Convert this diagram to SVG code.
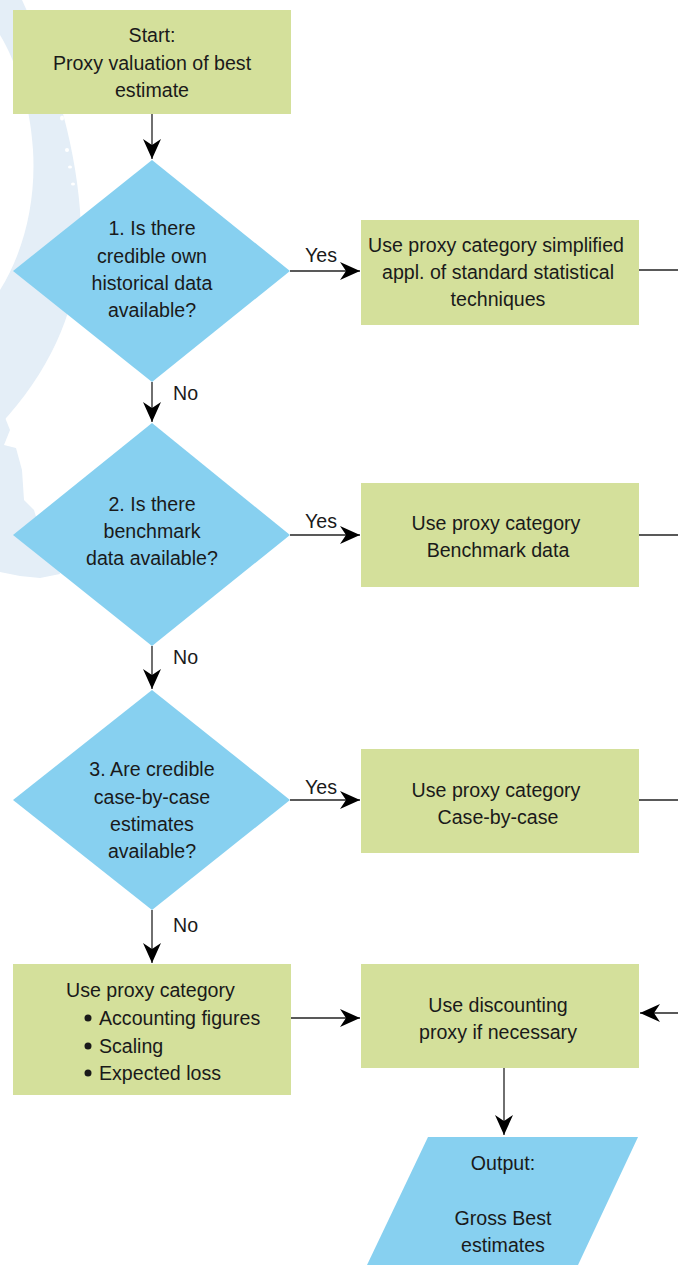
<svg xmlns="http://www.w3.org/2000/svg" width="678" height="1265" viewBox="0 0 678 1265">
<style>
.box{fill:#d4e09b}
.dec{fill:#87d0f0}
.t{font-family:"Liberation Sans",Arial,sans-serif;font-size:19.6px;fill:#1a1a1a;text-anchor:middle}
.tl{font-family:"Liberation Sans",Arial,sans-serif;font-size:19.6px;fill:#1a1a1a}
.ln{stroke:#222;stroke-width:1.3;fill:none}
.bg{fill:#e4eef7}
</style>
<defs>
<marker id="ah" markerUnits="userSpaceOnUse" viewBox="0 0 20 18" refX="20" refY="9" markerWidth="20" markerHeight="18" orient="auto">
<path d="M0,0 L20,9 L0,18 L6,9 Z" fill="#000"/>
</marker>
</defs>
<g id="background">
<path class="bg" d="M0,0 L22,0 C50,60 75,140 80,210 C85,290 60,360 0,425 L0,290 C25,250 36,200 33,150 C30,100 15,60 0,35 Z"/>
<path class="bg" d="M0,405 L10,430 L4,445 L16,448 L22,470 L24,500 L34,510 L40,530 L55,552 L60,574 L40,578 L20,576 L0,572 Z"/>
<ellipse cx="62" cy="118" rx="2" ry="2.5" fill="#fff"/>
<ellipse cx="67" cy="150" rx="2" ry="2" fill="#fff"/>
<ellipse cx="70" cy="167" rx="2" ry="1.5" fill="#fff"/>
<ellipse cx="73" cy="184" rx="2" ry="1.5" fill="#fff"/>
</g>
<g id="connectors">
<line class="ln" x1="152" y1="114" x2="152" y2="159" marker-end="url(#ah)"/>
<line class="ln" x1="152" y1="382" x2="152" y2="422" marker-end="url(#ah)"/>
<line class="ln" x1="152" y1="646" x2="152" y2="689" marker-end="url(#ah)"/>
<line class="ln" x1="152" y1="910" x2="152" y2="963" marker-end="url(#ah)"/>
<line class="ln" x1="290" y1="271" x2="360" y2="271" marker-end="url(#ah)"/>
<line class="ln" x1="290" y1="535" x2="360" y2="535" marker-end="url(#ah)"/>
<line class="ln" x1="290" y1="800" x2="360" y2="800" marker-end="url(#ah)"/>
<line class="ln" x1="291" y1="1018" x2="360" y2="1018" marker-end="url(#ah)"/>
<line class="ln" x1="639" y1="270" x2="678" y2="270"/>
<line class="ln" x1="639" y1="535" x2="678" y2="535"/>
<line class="ln" x1="639" y1="800" x2="678" y2="800"/>
<line class="ln" x1="678" y1="1013" x2="640" y2="1013" marker-end="url(#ah)"/>
<line class="ln" x1="504" y1="1068" x2="504" y2="1135" marker-end="url(#ah)"/>
<text class="tl" x="305" y="262">Yes</text>
<text class="tl" x="305" y="528">Yes</text>
<text class="tl" x="305" y="794">Yes</text>
<text class="tl" x="173" y="400">No</text>
<text class="tl" x="173" y="664">No</text>
<text class="tl" x="173" y="932">No</text>
</g>
<g id="start">
<rect class="box" x="13" y="10" width="278" height="104"/>
<text class="t" x="152" y="42">Start:</text>
<text class="t" x="152" y="70">Proxy valuation of best</text>
<text class="t" x="152" y="97">estimate</text>
</g>
<g id="q1">
<polygon class="dec" points="152,160 290,271 152,382 13,271"/>
<text class="t" x="152" y="235">1. Is there</text>
<text class="t" x="152" y="263">credible own</text>
<text class="t" x="152" y="290">historical data</text>
<text class="t" x="152" y="317">available?</text>
</g>
<g id="q2">
<polygon class="dec" points="152,423 290,535 152,646 13,535"/>
<text class="t" x="152" y="511">2. Is there</text>
<text class="t" x="152" y="538">benchmark</text>
<text class="t" x="152" y="565">data available?</text>
</g>
<g id="q3">
<polygon class="dec" points="152,690 290,800 152,910 13,800"/>
<text class="t" x="152" y="776">3. Are credible</text>
<text class="t" x="152" y="804">case-by-case</text>
<text class="t" x="152" y="831">estimates</text>
<text class="t" x="152" y="858">available?</text>
</g>
<g id="p1">
<rect class="box" x="361" y="220" width="278" height="105"/>
<text class="t" x="496" y="252">Use proxy category simplified</text>
<text class="t" x="498" y="279">appl. of standard statistical</text>
<text class="t" x="498" y="306">techniques</text>
</g>
<g id="p2">
<rect class="box" x="361" y="483" width="278" height="104"/>
<text class="t" x="496" y="530">Use proxy category</text>
<text class="t" x="498" y="557">Benchmark data</text>
</g>
<g id="p3">
<rect class="box" x="361" y="749" width="278" height="104"/>
<text class="t" x="496" y="797">Use proxy category</text>
<text class="t" x="498" y="824">Case-by-case</text>
</g>
<g id="p4">
<rect class="box" x="13" y="964" width="278" height="131"/>
<text class="tl" x="66" y="997">Use proxy category</text>
<circle cx="88" cy="1018" r="3.5" fill="#1a1a1a"/>
<text class="tl" x="99" y="1025">Accounting figures</text>
<circle cx="88" cy="1046" r="3.5" fill="#1a1a1a"/>
<text class="tl" x="99" y="1053">Scaling</text>
<circle cx="88" cy="1073" r="3.5" fill="#1a1a1a"/>
<text class="tl" x="99" y="1080">Expected loss</text>
</g>
<g id="discount">
<rect class="box" x="361" y="964" width="278" height="104"/>
<text class="t" x="498" y="1012">Use discounting</text>
<text class="t" x="498" y="1039">proxy if necessary</text>
</g>
<g id="output">
<polygon class="dec" points="428,1137 638,1137 578,1265 367,1265"/>
<text class="t" x="503" y="1170">Output:</text>
<text class="t" x="503" y="1225">Gross Best</text>
<text class="t" x="503" y="1252">estimates</text>
</g>
</svg>
